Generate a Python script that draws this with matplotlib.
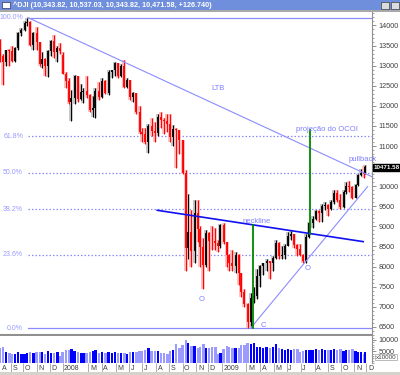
import numpy as np
import pandas as pd
import matplotlib
matplotlib.use("Agg")
import matplotlib.pyplot as plt
import matplotlib.transforms as mtransforms
from matplotlib.patches import Rectangle
from matplotlib.ticker import MultipleLocator, FuncFormatter
from pandas.tseries.holiday import USFederalHolidayCalendar

plt.rcParams["font.family"] = ["Liberation Sans", "DejaVu Sans"]

# weekly bars of ^DJI (last trading day of each week)
WEEKS = ["2007-08-10", "2007-08-17", "2007-08-24", "2007-08-31", "2007-09-07", "2007-09-14",
         "2007-09-21", "2007-09-28", "2007-10-05", "2007-10-12", "2007-10-19", "2007-10-26",
         "2007-11-02", "2007-11-09", "2007-11-16", "2007-11-23", "2007-11-30", "2007-12-07",
         "2007-12-14", "2007-12-21", "2007-12-28", "2008-01-04", "2008-01-11", "2008-01-18",
         "2008-01-25", "2008-02-01", "2008-02-08", "2008-02-15", "2008-02-22", "2008-02-29",
         "2008-03-07", "2008-03-14", "2008-03-20", "2008-03-28", "2008-04-04", "2008-04-11",
         "2008-04-18", "2008-04-25", "2008-05-02", "2008-05-09", "2008-05-16", "2008-05-23",
         "2008-05-30", "2008-06-06", "2008-06-13", "2008-06-20", "2008-06-27", "2008-07-03",
         "2008-07-11", "2008-07-18", "2008-07-25", "2008-08-01", "2008-08-08", "2008-08-15",
         "2008-08-22", "2008-08-29", "2008-09-05", "2008-09-12", "2008-09-19", "2008-09-26",
         "2008-10-03", "2008-10-10", "2008-10-17", "2008-10-24", "2008-10-31", "2008-11-07",
         "2008-11-14", "2008-11-21", "2008-11-28", "2008-12-05", "2008-12-12", "2008-12-19",
         "2008-12-26", "2009-01-02", "2009-01-09", "2009-01-16", "2009-01-23", "2009-01-30",
         "2009-02-06", "2009-02-13", "2009-02-20", "2009-02-27", "2009-03-06", "2009-03-13",
         "2009-03-20", "2009-03-27", "2009-04-03", "2009-04-09", "2009-04-17", "2009-04-24",
         "2009-05-01", "2009-05-08", "2009-05-15", "2009-05-22", "2009-05-29", "2009-06-05",
         "2009-06-12", "2009-06-19", "2009-06-26", "2009-07-02", "2009-07-10", "2009-07-17",
         "2009-07-24", "2009-07-31", "2009-08-07", "2009-08-14", "2009-08-21", "2009-08-28",
         "2009-09-04", "2009-09-11", "2009-09-18", "2009-09-25", "2009-10-02", "2009-10-09",
         "2009-10-16", "2009-10-23", "2009-10-30", "2009-11-06", "2009-11-13", "2009-11-20",
         "2009-11-27", "2009-12-01"]

OPEN = [13470, 13240, 13080, 13378, 13360, 13110, 13440, 13820, 13896, 14066, 14093, 13522,
        13806, 13595, 13042, 13176, 12980, 13371, 13625, 13339, 13450, 13260, 12800, 12606,
        12099, 12207, 12743, 12182, 12348, 12381, 12266, 11894, 11951, 12361, 12216, 12609,
        12325, 12849, 12891, 13058, 12745, 12986, 12479, 12638, 12209, 12307, 11842, 11346,
        11288, 11100, 11496, 11370, 11326, 11734, 11659, 11628, 11543, 11220, 11421, 11388,
        11143, 10325, 8451, 8852, 8378, 9325, 8943, 8497, 8046, 8829, 8635, 8629,
        8579, 8515, 9034, 8599, 8281, 8077, 8001, 8280, 7850, 7366, 7063, 6627,
        7224, 7279, 7776, 8018, 8083, 8131, 8076, 8212, 8575, 8268, 8278, 8500,
        8764, 8799, 8540, 8438, 8280, 8146, 8744, 9093, 9172, 9370, 9321, 9506,
        9544, 9441, 9605, 9820, 9665, 9488, 9865, 9996, 9972, 9713, 10023, 10270,
        10318, 10310]
HIGH = [13660, 13300, 13400, 13420, 13500, 13470, 13830, 13930, 14100, 14198, 14100, 13830,
        13950, 13600, 13350, 13200, 13400, 13650, 13760, 13500, 13570, 13340, 12850, 12700,
        12400, 12770, 12750, 12550, 12450, 12750, 12300, 12250, 12450, 12600, 12700, 12650,
        12900, 12900, 13100, 13060, 13050, 13136, 12700, 12650, 12350, 12320, 12000, 11450,
        11450, 11550, 11700, 11600, 11800, 11850, 11700, 11800, 11800, 11530, 11450, 11400,
        11150, 10400, 9800, 9400, 9650, 9650, 9000, 8700, 8900, 8850, 9000, 8950,
        8650, 9065, 9090, 8600, 8300, 8400, 8350, 8300, 7850, 7450, 7100, 7350,
        7500, 7950, 8050, 8100, 8200, 8150, 8250, 8650, 8600, 8500, 8550, 8850,
        8880, 8800, 8550, 8550, 8300, 8800, 9100, 9250, 9400, 9400, 9550, 9600,
        9550, 9650, 9900, 9900, 9800, 9900, 10100, 10120, 10000, 10050, 10300, 10440,
        10500, 10537]
LOW = [13090, 12518, 12980, 12990, 13100, 13080, 13380, 13750, 13850, 13980, 13500, 13400,
       13400, 13000, 12950, 12740, 12720, 13250, 13200, 13100, 13300, 12780, 12450, 12050,
       11634, 12050, 12100, 12150, 12070, 12200, 11850, 11730, 11700, 12150, 12200, 12300,
       12280, 12700, 12750, 12700, 12720, 12450, 12450, 12150, 12100, 11800, 11300, 11100,
       11050, 10827, 11250, 11100, 11250, 11450, 11300, 11350, 11100, 11000, 10460, 10800,
       10300, 7882, 8200, 8000, 8100, 8600, 8000, 7449, 8000, 7900, 8400, 8400,
       8350, 8450, 8550, 8000, 7900, 7900, 7850, 7550, 7250, 7000, 6470, 6500,
       7100, 7200, 7500, 7800, 7900, 7700, 7900, 8200, 8200, 8200, 8200, 8500,
       8650, 8450, 8250, 8250, 8087, 8100, 8700, 8950, 9150, 9100, 9100, 9400,
       9250, 9400, 9550, 9600, 9430, 9450, 9800, 9850, 9680, 9700, 10000, 10250,
       10200, 10300]
CLOSE = [13239, 13079, 13378, 13358, 13113, 13442, 13820, 13896, 14066, 14093, 13522, 13806,
         13595, 13042, 13176, 12980, 13371, 13625, 13339, 13450, 13366, 12800, 12606, 12099,
         12207, 12743, 12182, 12348, 12381, 12266, 11894, 11951, 12361, 12216, 12609, 12325,
         12849, 12891, 13058, 12745, 12986, 12479, 12638, 12209, 12307, 11842, 11346, 11288,
         11100, 11496, 11370, 11326, 11734, 11659, 11628, 11543, 11220, 11421, 11388, 11143,
         10325, 8451, 8852, 8378, 9325, 8943, 8497, 8046, 8829, 8635, 8629, 8579,
         8515, 9034, 8599, 8281, 8077, 8001, 8280, 7850, 7366, 7063, 6627, 7224,
         7279, 7776, 8018, 8083, 8131, 8076, 8212, 8575, 8268, 8278, 8500, 8764,
         8799, 8540, 8438, 8280, 8146, 8744, 9093, 9172, 9370, 9321, 9506, 9544,
         9441, 9605, 9820, 9665, 9488, 9865, 9996, 9972, 9713, 10023, 10270, 10318,
         10310, 10471.58]
VOLUME = [6500, 6800, 4600, 4200, 4000, 4000, 4600, 3900, 4000, 4300, 4600, 4400,
          4700, 4800, 4600, 4000, 5000, 4300, 4500, 4600, 3000, 4800, 5500, 5800,
          6200, 5300, 4800, 4500, 4400, 4500, 4900, 5200, 5700, 4400, 4600, 4200,
          4700, 4300, 4600, 4300, 4300, 4200, 4000, 4600, 4700, 4900, 5400, 5000,
          5600, 6300, 5400, 5000, 5200, 4500, 4200, 4100, 5000, 5500, 8300, 6500,
          7800, 9800, 8800, 7500, 7200, 6500, 6800, 8300, 6500, 6600, 6800, 7000,
          3800, 4500, 6200, 7200, 6800, 6500, 6500, 6700, 7800, 8000, 8500, 8300,
          8600, 7000, 7000, 6600, 7000, 6700, 6800, 8200, 6600, 6000, 5500, 6000,
          5800, 6200, 6000, 4800, 5000, 5500, 5800, 5800, 6200, 5800, 6000, 5800,
          5600, 5500, 6200, 5800, 6000, 5200, 5600, 5500, 6200, 5400, 4800, 4600,
          3800, 4600]

HEADER = "^DJI (10,343.82, 10,537.03, 10,343.82, 10,471.58, +126.740)"
LAST_PRICE = 10471.58

# fibonacci retracement between the 2007 top and the 2009 bottom
FIB_LOW, FIB_HIGH = 6470, 14198
FIB_LEVELS = [0.0, 0.236, 0.382, 0.5, 0.618, 1.0]
FIB_LABELS = ["0.0%", "23.6%", "38.2%", "50.0%", "61.8%", "100.0%"]
FIB_START = "2007-10-11"

LTB = [("2007-10-11", 14198), ("2008-05-19", 13100)]      # down trend line
NECK = [("2008-08-05", 9400), ("2009-11-23", 8620)]       # neckline
LTA = [("2009-03-11", 6470), ("2009-07-10", 8087)]        # up trend line
LTA_END = "2009-12-03"
TARGET_DATES = ["2009-03-17", "2009-07-23"]               # head height / projection

MONTH_LABELS = ["A", "S", "O", "N", "D", "2008", "", "M", "A", "M", "J", "J", "A", "S",
                "O", "N", "D", "2009", "", "M", "A", "M", "J", "J", "A", "S", "O", "N", "D"]
XLIM_DATES = ("2007-08-08", "2009-12-14")

BLUE_LT = "#8c8cff"
GREY_TXT = "#404040"

# trading day index (chart spacing is per session, not per calendar day)
hol = USFederalHolidayCalendar().holidays("2007-01-01", "2010-12-31")
bdays = pd.bdate_range("2007-07-02", "2010-01-31", freq="C", holidays=hol)


def tix(d):
    return float(bdays.searchsorted(pd.Timestamp(d)))


x = np.array([tix(d) for d in WEEKS]) - 2
o, h, l, c = map(np.array, (OPEN, HIGH, LOW, CLOSE))
v = np.array(VOLUME)
up = c >= o
xl = (tix(XLIM_DATES[0]), tix(XLIM_DATES[1]))

fig = plt.figure(figsize=(4, 3.75), dpi=100)
H = 375.0


def fy(px):
    return 1 - px / H


ax = fig.add_axes([0, fy(335), 372 / 400, (335 - 11) / H])
axv = fig.add_axes([0, fy(363), 372 / 400, (363 - 336) / H])

# window chrome
fig.patches.append(Rectangle((0, fy(10)), 1, 10 / H, transform=fig.transFigure,
                             fc="#6f8fdc", ec="none", zorder=0))
fig.patches.append(Rectangle((0, fy(11.5)), 1, 1.5 / H, transform=fig.transFigure,
                             fc="#a8a8a8", ec="none", zorder=0))
fig.patches.append(Rectangle((2 / 400, fy(8)), 8 / 400, 6 / H, transform=fig.transFigure,
                             fc="white", ec="#303060", lw=0.5, zorder=1))
for bx in (381, 391):
    fig.patches.append(Rectangle((bx / 400, fy(9)), 8 / 400, 7 / H, transform=fig.transFigure,
                                 fc="#dcdcdc", ec="#404040", lw=0.5, zorder=1))
fig.text(13 / 400, fy(5), HEADER, color="white", fontsize=5.2, fontweight="bold",
         va="center", ha="left")
fig.patches.append(Rectangle((0, 0), 1, 3 / H, transform=fig.transFigure,
                             fc="#d6d3cc", ec="none", zorder=0))

# price bars
ax.vlines(x[up], l[up], h[up], color="#bdbdbd", lw=2.6, zorder=2)
ax.vlines(x[~up], l[~up], h[~up], color="#ffb4b4", lw=2.6, zorder=2)
ax.vlines(x[up], l[up], h[up], color="black", lw=0.7, zorder=3)
ax.vlines(x[~up], l[~up], h[~up], color="red", lw=0.7, zorder=3)
ax.vlines(x[up], o[up], c[up], color="black", lw=1.3, zorder=3)
ax.vlines(x[~up], c[~up], o[~up], color="red", lw=1.3, zorder=3)

# fibonacci levels
x0 = tix(FIB_START)
for lev, lab in zip(FIB_LEVELS, FIB_LABELS):
    yv = FIB_LOW + lev * (FIB_HIGH - FIB_LOW)
    ls = "-" if lev in (0.0, 1.0) else (0, (1.2, 1.6))
    ax.plot([x0, xl[1]], [yv, yv], color=BLUE_LT, lw=0.9, ls=ls, zorder=1)
    ax.text(23 / 372, yv, lab, transform=mtransforms.blended_transform_factory(ax.transAxes, ax.transData),
            ha="right", va="center", fontsize=5, color="#9a9aff")


def line_pts(pts, x_end):
    (d1, p1), (d2, p2) = pts
    xa, xb = tix(d1), tix(d2)
    k = (p2 - p1) / (xb - xa)
    return [xa, x_end], [p1, p1 + k * (x_end - xa)], k


# LTB
lx, ly, _ = line_pts(LTB, xl[1])
ax.plot(lx, ly, color=BLUE_LT, lw=0.8, zorder=4)
# neckline
nx0, npr0 = tix(NECK[0][0]), NECK[0][1]
nx, ny, nk = line_pts(NECK, tix(NECK[1][0]))
ax.plot(nx, ny, color="#1010f0", lw=1.2, zorder=5)
# up trend line
ux, uy, _ = line_pts(LTA, tix(LTA_END))
ax.plot(ux, uy, color=BLUE_LT, lw=0.8, zorder=4)

# head height and projected target
g1, g2 = tix(TARGET_DATES[0]), tix(TARGET_DATES[1])
n1 = npr0 + nk * (g1 - nx0)
n2 = npr0 + nk * (g2 - nx0)
ax.plot([g1, g1], [FIB_LOW, n1], color="#008800", lw=1.3, zorder=6)
ax.plot([g2, g2], [n2, n2 + (n1 - FIB_LOW)], color="#008800", lw=1.3, zorder=6)

tk = dict(color="#7f7fff", fontsize=5.5, ha="center", va="center", zorder=7)
ax.text(tix("2008-12-24"), 12440, "LTB", **tk)
ax.text(tix("2009-08-31"), 11420, "projeção do OCOI", **tk)
ax.text(tix("2009-03-24"), 9120, "neckline", **tk)
ax.text(tix("2009-11-20"), 10660, "pullback", **tk)
ax.text(tix("2008-11-17"), 7190, "O", **tk)
ax.text(tix("2009-04-08"), 6530, "C", **tk)
ax.text(tix("2009-07-17"), 7960, "O", **tk)

ax.set_xlim(xl)
ax.set_ylim(6296, 14360)
ax.set_xticks([])
ax.yaxis.tick_right()
ax.set_yticks(np.arange(6500, 14001, 500))
# the last-price box sits over the 10500 label
ax.yaxis.set_major_formatter(FuncFormatter(lambda val, pos: "" if abs(val - 10500) < 1 else f"{val:.0f}"))
ax.yaxis.set_minor_locator(MultipleLocator(100))
ax.tick_params(axis="y", which="major", length=3, width=0.6, color="#808080",
               labelsize=5.2, labelcolor=GREY_TXT, pad=1.5)
ax.tick_params(axis="y", which="minor", length=1.5, width=0.5, color="#808080")
for s in ("top", "left"):
    ax.spines[s].set_visible(False)
ax.spines["right"].set_color("#909090")
ax.spines["bottom"].set_color("#909090")
ax.spines["bottom"].set_linewidth(1.5)
ax.text(1.005, LAST_PRICE, "10471.58",
        transform=mtransforms.blended_transform_factory(ax.transAxes, ax.transData),
        color="white", fontsize=4.5, fontweight="bold", ha="left", va="center", zorder=10,
        bbox=dict(fc="black", ec="black", pad=0.6), clip_on=False)

# volume
axv.bar(x[up], v[up], width=3.6, color="#0000ff", zorder=3)
axv.bar(x[~up], v[~up], width=3.6, color="#9a9aff", zorder=2)
axv.set_xlim(xl)
axv.set_ylim(0, 11700)
axv.yaxis.tick_right()
axv.set_yticks([5000, 10000])
axv.yaxis.set_minor_locator(MultipleLocator(1000))
axv.tick_params(axis="y", which="major", length=3, width=0.6, color="#808080",
                labelsize=5.2, labelcolor=GREY_TXT, pad=1.5)
axv.tick_params(axis="y", which="minor", length=1.5, width=0.5, color="#808080")
for s in ("top", "left", "bottom"):
    axv.spines[s].set_visible(False)
axv.spines["right"].set_color("#909090")
axv.text(1.01, 0.22, "x10000", transform=axv.transAxes, fontsize=4.5, color=GREY_TXT,
         ha="left", va="center", bbox=dict(fc="white", ec="#a0a0a0", lw=0.5, pad=0.5),
         clip_on=False)

# month axis
months = pd.date_range("2007-08-01", "2009-12-01", freq="MS")
mpos = [tix(m) for m in months]
ticks = [p for p, lab in zip(mpos, MONTH_LABELS) if lab and p > xl[0]]
axv.set_xticks(ticks)
axv.set_xticklabels([])
axv.tick_params(axis="x", length=6.5, width=0.6, color="#a0a0a0", direction="out")
tr = mtransforms.blended_transform_factory(axv.transData, axv.transAxes)
for p, lab in zip(mpos, MONTH_LABELS):
    if lab:
        axv.text(max(p, xl[0]) + 2.5, -0.2, lab, transform=tr, fontsize=5,
                 color=GREY_TXT, ha="left", va="center", clip_on=False)

fig.savefig("out.png", dpi=100)
